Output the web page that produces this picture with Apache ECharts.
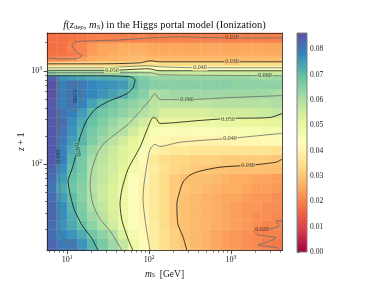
<!DOCTYPE html>
<html><head><meta charset="utf-8">
<script src="https://cdn.jsdelivr.net/npm/echarts@6/dist/echarts.min.js"></script>
<style>html,body{margin:0;padding:0;background:#fff}#c{width:379px;height:284px}</style>
</head><body><div id="c"></div>
<script>
// ---------- data ----------
// cell edges of the f(z_dep, m_S) grid
const mEdges = [5.623, 7.499, 10, 13.34, 17.78, 23.71, 31.62, 42.17, 56.23, 74.99, 100, 133.4, 177.8, 237.1, 316.2, 421.7, 562.3, 749.9, 1000, 1334, 1778, 2371, 3162, 4217];
const zEdges = [10, 12.59, 15.85, 19.95, 25.12, 31.62, 39.81, 50.12, 63.10, 79.43, 100, 125.9, 158.5, 199.5, 251.2, 316.2, 398.1, 501.2, 631.0, 794.3, 891.3, 1000, 1122, 1259, 1413, 1585, 1995, 2512, 3162];
// f values: one row per z bin (bottom to top), one entry per m bin (left to right)
const fGrid = [
 [.084,.081,.081,.077,.072,.068,.063,.058,.050,.043,.038,.035,.032,.030,.028,.027,.025,.024,.023,.022,.021,.0195,.019],
 [.083,.080,.080,.076,.071,.067,.062,.057,.049,.042,.038,.035,.032,.030,.028,.027,.025,.024,.023,.022,.021,.0195,.019],
 [.082,.078,.076,.073,.068,.064,.060,.053,.047,.0415,.038,.035,.032,.029,.028,.027,.025,.024,.023,.022,.021,.020,.020],
 [.082,.076,.073,.069,.064,.060,.055,.050,.045,.041,.038,.034,.031,.029,.028,.027,.026,.025,.024,.023,.022,.0205,.0205],
 [.083,.077,.072,.067,.062,.058,.054,.0495,.045,.0405,.037,.034,.031,.029,.028,.027,.026,.025,.024,.023,.022,.022,.021],
 [.083,.077,.071,.066,.060,.057,.053,.049,.0445,.040,.037,.034,.031,.029,.028,.027,.026,.025,.024,.023,.023,.022,.022],
 [.082,.075,.070,.065,.0595,.056,.053,.049,.0445,.040,.037,.034,.031,.029,.028,.027,.026,.025,.025,.024,.023,.023,.022],
 [.081,.073,.068,.065,.059,.056,.053,.0495,.0445,.040,.037,.034,.031,.030,.029,.028,.027,.026,.026,.025,.024,.024,.023],
 [.082,.075,.069,.066,.0595,.057,.054,.051,.045,.0405,.037,.034,.031,.029,.029,.029,.028,.027,.026,.026,.025,.025,.024],
 [.083,.077,.070,.067,.060,.057,.055,.052,.048,.041,.038,.035,.033,.032,.031,.030,.0295,.0295,.029,.029,.029,.029,.0285],
 [.085,.079,.071,.067,.061,.058,.055,.053,.050,.0415,.037,.034,.033,.033,.032,.032,.032,.031,.031,.031,.031,.031,.030],
 [.085,.079,.073,.068,.063,.059,.056,.053,.051,.046,.040,.038,.037,.037,.036,.036,.036,.036,.036,.036,.036,.036,.035],
 [.085,.080,.075,.071,.066,.062,.058,.055,.052,.048,.042,.041,.040,.040,.040,.040,.040,.040,.041,.041,.041,.042,.042],
 [.085,.081,.076,.071,.067,.064,.061,.059,.055,.051,.046,.045,.045,.045,.045,.045,.045,.045,.046,.046,.046,.047,.047],
 [.085,.082,.077,.073,.069,.066,.063,.0605,.058,.055,.051,.050,.050,.050,.050,.050,.050,.050,.050,.051,.051,.051,.052],
 [.085,.081,.079,.075,.0705,.068,.066,.064,.062,.059,.057,.054,.054,.054,.054,.054,.055,.055,.055,.055,.055,.056,.057],
 [.085,.079,.081,.078,.074,.0705,.068,.066,.064,.062,.058,.058,.058,.058,.058,.058,.059,.059,.059,.059,.059,.059,.060],
 [.086,.079,.081,.0795,.078,.076,.074,.072,.068,.065,.060,.061,.062,.062,.062,.062,.062,.062,.062,.062,.062,.062,.061],
 [.086,.079,.081,.080,.078,.077,.076,.075,.071,.067,.065,.065,.065,.065,.065,.065,.065,.065,.064,.064,.064,.064,.064],
 [.083,.076,.075,.074,.073,.073,.072,.072,.069,.066,.063,.063,.063,.063,.063,.063,.063,.063,.063,.063,.062,.062,.062],
 [.066,.063,.063,.063,.063,.063,.063,.062,.061,.059,.057,.057,.057,.056,.056,.056,.056,.056,.056,.056,.056,.056,.056],
 [.046,.045,.045,.045,.045,.045,.045,.045,.045,.045,.044,.044,.044,.044,.044,.044,.044,.044,.044,.044,.044,.044,.044],
 [.032,.033,.033,.033,.033,.033,.033,.033,.034,.035,.035,.034,.034,.034,.034,.034,.034,.034,.034,.034,.034,.034,.034],
 [.0205,.021,.022,.024,.026,.027,.027,.028,.028,.029,.028,.028,.028,.028,.028,.028,.028,.028,.028,.028,.028,.028,.028],
 [.018,.0185,.019,.0205,.024,.025,.026,.026,.027,.027,.026,.026,.026,.026,.026,.026,.026,.026,.026,.026,.026,.026,.026],
 [.0175,.018,.0198,.0205,.023,.025,.025,.026,.026,.026,.025,.025,.025,.025,.025,.025,.025,.025,.025,.025,.025,.025,.025],
 [.0175,.018,.0185,.019,.0195,.0198,.020,.020,.020,.0205,.020,.020,.020,.020,.020,.020,.020,.020,.020,.020,.020,.020,.020],
 [.017,.0175,.018,.0185,.019,.019,.019,.0195,.0195,.0195,.0195,.0195,.0195,.0195,.0195,.0195,.0195,.0195,.0195,.0195,.0195,.0195,.0195]
];
// contour lines, points as [m_S, z+1]
const c020Top = [[4190,2244],[972,2244],[239,2301],[103,2244],[44.3,2138],[19.1,2084],[12.5,2036],[11.5,1892],[12.9,1592],[15.2,1444],[12.2,1343],[8.2,1343],[5.7,1375]];
const c030Top = [[5.7,1186],[25.2,1186],[77.6,1216],[103,1276],[136,1246],[972,1246],[4190,1246]];
const c040Top = [[5.7,1076],[25.2,1076],[97.3,1130],[136,1103],[419,1076],[4190,1076]];
const c050Top = [[5.7,1012],[35.4,1012],[97.3,1050],[136,1000],[4190,1000]];
const c060Top = [[5.7,953],[103,953],[136,906],[4190,885]];
const c060Mid = [[4190,542],[972,516],[290,491],[136,491],[118,569],[103,491],[77.6,367],[55.5,267],[38.5,209],[27.5,163],[23.2,128],[20.2,88.5],[19.1,61.3],[20.7,37.5],[25.2,26.0],[33.4,19.4],[46.9,11.9]];
const c050Mid = [[4190,349],[2990,316],[972,309],[419,294],[136,273],[122,309],[112,316],[97.3,248],[77.6,152],[55.5,88.5],[46.9,54.2],[44.3,37.5],[46.9,24.8],[55.5,15.9],[63.8,11.9]];
const c040Mid = [[4190,214],[972,189],[239,172],[136,155],[118,163],[103,144],[94.6,100],[86.9,61.3],[84.5,42.4],[89.3,26.0],[97.3,15.9],[103,11.9]];
const c030Mid = [[4190,113],[3540,105],[1706,97.6],[735,92.9],[419,84.3],[316,76.4],[260,64.4],[232,48.0],[219,37.5],[225,23.0],[260,16.7],[290,11.9]];
const c020Bot = [[4190,24.8],[3540,24.8],[3850,21.9],[3080,20.4],[1905,19.4],[2134,17.6],[3540,16.3],[2825,14.8],[2134,13.7],[3540,12.8],[4010,11.9]];
const c070 = [[5.7,885],[25.2,885],[58.6,863],[67.5,801],[63.8,659],[53.9,569],[31.6,468],[21.9,385],[17.1,286],[14.4,194],[12.9,128],[11.5,88.5],[10.3,65.9],[10.9,48.0],[12.2,33.2],[15.2,22.4],[20.2,15.9],[23.9,11.9]];
const c080Col = [[5.7,863],[7.35,885],[7.98,764],[7.98,385],[7.76,185],[7.98,88.5],[8.2,54.2],[7.98,29.4],[8.2,19.4],[9.73,15.2],[11.5,14.8],[13.6,11.9]];
const c080Island = [[10.9,727],[12.9,745],[14.4,628],[14.4,435],[12.9,367],[11.2,385],[10.3,491],[10.3,659],[10.9,727]];
const contourLevels = [0.02,0.03,0.04,0.05,0.06,0.06,0.05,0.04,0.03,0.02,0.07,0.08,0.08];
const contourLines = [c020Top,c030Top,c040Top,c050Top,c060Top,c060Mid,c050Mid,c040Mid,c030Mid,c020Bot,c070,c080Col,c080Island];
// contour labels: [m_S, z+1, text, rotation]
const labelPoints = [
 [1028,2301,'0.020',0],[1028,1246,'0.030',0],[419,1076,'0.040',0],[35.4,1012,'0.050',0],[2600,885,'0.060',0],
 [290,491,'0.060',0],[918,305,'0.050',0],[972,189,'0.040',0],[1611,97.6,'0.030',0],[2390,19.9,'0.020',0],
 [12.2,529,'0.080',-90],[13.3,144,'0.070',-78],[7.8,122,'0.080',90]
];
const xMajor = [10,100,1000];
const xMinor = [6,7,8,9,20,30,40,50,60,70,80,90,200,300,400,500,600,700,800,900,2000,3000,4000];
const yMajor = [100,1000];
const yMinor = [20,30,40,50,60,70,80,90,200,300,400,500,600,700,800,900,2000];
const cbTicks = [0,0.01,0.02,0.03,0.04,0.05,0.06,0.07,0.08];
const cbMax = 0.0865;
const xRange = [5.7,4190];
const yRange = [11.9,2535];

// ---------- styling helpers ----------
const spectral = ['#9e0142','#d53e4f','#f46d43','#fdae61','#fee08b','#ffffbf','#e6f598','#abdda4','#66c2a5','#3288bd','#5e4fa2'];
const SERIF = "'Liberation Serif', 'DejaVu Serif', serif";
function hex2rgb(h){return [parseInt(h.slice(1,3),16),parseInt(h.slice(3,5),16),parseInt(h.slice(5,7),16)];}
function levelColor(v){
  let t=Math.max(0,Math.min(1,v/cbMax))*(spectral.length-1);
  let i=Math.min(Math.floor(t),spectral.length-2); let f=t-i;
  const a=hex2rgb(spectral[i]), b=hex2rgb(spectral[i+1]);
  return 'rgb('+a.map((x,j)=>Math.round(x+(b[j]-x)*f)).join(',')+')';
}
const heatData=[];
for(let r=0;r<fGrid.length;r++) for(let k=0;k<fGrid[r].length;k++)
  heatData.push([mEdges[k],zEdges[r],mEdges[k+1],zEdges[r+1],fGrid[r][k]]);

function renderCell(params, api){
  const p0=api.coord([api.value(0),api.value(1)]);
  const p1=api.coord([api.value(2),api.value(3)]);
  const cs=params.coordSys;
  const rect=echarts.graphic.clipRectByRect(
    {x:Math.min(p0[0],p1[0]),y:Math.min(p0[1],p1[1]),width:Math.abs(p1[0]-p0[0]),height:Math.abs(p1[1]-p0[1])},
    {x:cs.x,y:cs.y,width:cs.width,height:cs.height});
  if(!rect) return;
  const c=api.visual('color');
  return {type:'rect',shape:rect,style:{fill:c,stroke:c,lineWidth:0.4}};
}
function renderBar(params, api){
  const p0=api.coord([api.value(0),api.value(1)]);
  const p1=api.coord([api.value(2),api.value(3)]);
  const stops=spectral.map((c,i)=>({offset:i/(spectral.length-1),color:c}));
  return {type:'rect',shape:{x:Math.min(p0[0],p1[0]),y:Math.min(p0[1],p1[1]),width:Math.abs(p1[0]-p0[0]),height:Math.abs(p1[1]-p0[1])},
    style:{fill:new echarts.graphic.LinearGradient(0,1,0,0,stops),stroke:'#808080',lineWidth:1}};
}
const powFmt = v => '10{sup|'+Math.round(Math.log10(v))+'}';
const powRich = {sup:{fontSize:5.5,fontFamily:SERIF,color:'#222',verticalAlign:'top',padding:[0,0,5,0]}};

const series=[{
  type:'custom',renderItem:renderCell,data:heatData,xAxisIndex:0,yAxisIndex:0,
  encode:{x:[0,2],y:[1,3]},silent:true,z:1,animation:false
}];
contourLines.forEach((pts,i)=>{
  const lvl=contourLevels[i];
  const dark=[0.03,0.05,0.07].some(v=>Math.abs(v-lvl)<1e-6);
  series.push({type:'line',data:pts,xAxisIndex:0,yAxisIndex:0,showSymbol:false,smooth:0.25,silent:true,animation:false,z:3,
    lineStyle:{color:dark?'#111':'#6a6a6a',width:0.8}});
});
series.push({type:'scatter',xAxisIndex:0,yAxisIndex:0,symbolSize:0,silent:true,animation:false,z:4,
  data:labelPoints.map(p=>({value:[p[0],p[1]],label:{show:true,position:'inside',formatter:p[2],rotate:p[3],
    fontSize:6,fontFamily:SERIF,color:'#222',backgroundColor:levelColor(parseFloat(p[2])),padding:[0,1]}}))});
series.push({type:'custom',renderItem:renderBar,data:[[0,0,1,cbMax]],xAxisIndex:3,yAxisIndex:3,encode:{x:[0,2],y:[1,3]},silent:true,animation:false});

const axisCol='#222';
const option={
  animation:false,
  backgroundColor:'#fff',
  graphic:[{type:'text',x:164.5,y:25,silent:true,
    style:{text:'{i|f}({i|z}{sub|dep}, {i|m}{subi|S}) in the Higgs portal model (Ionization)',
      align:'center',verticalAlign:'middle',fontSize:10.5,fontFamily:SERIF,fill:'#111',
      rich:{i:{fontSize:10.5,fontStyle:'italic',fontFamily:SERIF,fill:'#111',lineHeight:12},
            sub:{fontSize:7,fontFamily:SERIF,fill:'#111',verticalAlign:'bottom',lineHeight:8},
            subi:{fontSize:7,fontStyle:'italic',fontFamily:SERIF,fill:'#111',verticalAlign:'bottom',lineHeight:8}}}}],
  grid:[{left:47,top:33,width:235,height:219},{left:297,top:33,width:10,height:219}],
  visualMap:{type:'continuous',show:false,min:0,max:cbMax,dimension:4,seriesIndex:0,inRange:{color:spectral}},
  xAxis:[
    {type:'log',gridIndex:0,min:xRange[0],max:xRange[1],position:'bottom',z:10,
     axisLine:{show:true,onZero:false,lineStyle:{color:axisCol,width:0.8}},
     axisTick:{show:true,length:3.5,customValues:xMajor,lineStyle:{color:axisCol,width:0.8}},
     axisLabel:{customValues:xMajor,formatter:powFmt,rich:powRich,fontSize:8,fontFamily:SERIF,color:'#222',margin:4},
     splitLine:{show:false},minorTick:{show:false},
     name:'{i|m}{sub|S}  [GeV]',nameLocation:'middle',nameGap:17,
     nameTextStyle:{fontSize:9.5,fontFamily:SERIF,color:'#222',rich:{i:{fontSize:9.5,fontStyle:'italic',fontFamily:SERIF,color:'#222'},sub:{fontSize:6.5,fontStyle:'italic',fontFamily:SERIF,color:'#222',verticalAlign:'bottom',lineHeight:6}}}},
    {type:'log',gridIndex:0,min:xRange[0],max:xRange[1],position:'bottom',z:10,
     axisLine:{show:false},axisLabel:{show:false},splitLine:{show:false},
     axisTick:{show:true,length:2,customValues:xMinor,lineStyle:{color:axisCol,width:0.6}}},
    {type:'log',gridIndex:0,min:xRange[0],max:xRange[1],position:'top',z:10,
     axisLine:{show:true,onZero:false,lineStyle:{color:axisCol,width:0.8}},axisTick:{show:false},axisLabel:{show:false},splitLine:{show:false}},
    {type:'value',gridIndex:1,min:0,max:1,show:false}
  ],
  yAxis:[
    {type:'log',gridIndex:0,min:yRange[0],max:yRange[1],position:'left',z:10,
     axisLine:{show:true,onZero:false,lineStyle:{color:axisCol,width:0.8}},
     axisTick:{show:true,length:3.5,customValues:yMajor,lineStyle:{color:axisCol,width:0.8}},
     axisLabel:{customValues:yMajor,formatter:powFmt,rich:powRich,fontSize:8,fontFamily:SERIF,color:'#222',margin:5},
     splitLine:{show:false},
     name:'{i|z} + 1',nameLocation:'middle',nameGap:21,nameRotate:90,nameMoveOverlap:false,
     nameTextStyle:{fontSize:9.5,fontFamily:SERIF,color:'#222',rich:{i:{fontSize:9.5,fontStyle:'italic',fontFamily:SERIF,color:'#222'}}}},
    {type:'log',gridIndex:0,min:yRange[0],max:yRange[1],position:'left',z:10,
     axisLine:{show:false},axisLabel:{show:false},splitLine:{show:false},
     axisTick:{show:true,length:2,customValues:yMinor,lineStyle:{color:axisCol,width:0.6}}},
    {type:'log',gridIndex:0,min:yRange[0],max:yRange[1],position:'right',z:10,
     axisLine:{show:true,onZero:false,lineStyle:{color:axisCol,width:0.8}},axisTick:{show:false},axisLabel:{show:false},splitLine:{show:false}},
    {type:'value',gridIndex:1,min:0,max:cbMax,position:'right',
     axisLine:{show:false},splitLine:{show:false},
     axisTick:{show:true,length:3,customValues:cbTicks,lineStyle:{color:axisCol,width:0.7}},
     axisLabel:{customValues:cbTicks,formatter:v=>v.toFixed(2),fontSize:7.5,fontFamily:SERIF,color:'#222',margin:3}}
  ],
  series:series
};
const chart=echarts.init(document.getElementById('c'),null,{renderer:'canvas'});
chart.setOption(option);
</script></body></html>
